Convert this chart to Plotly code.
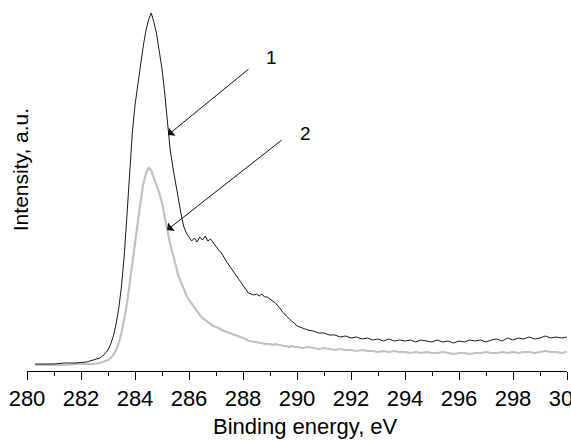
import plotly.graph_objects as go

# Binding energy grid (eV)
energy = [280.3, 280.6, 281.0, 281.4, 281.8, 282.2, 282.5,
          282.7, 282.8, 282.9, 283.0, 283.1, 283.2, 283.3, 283.4, 283.5, 283.6, 283.7, 283.8, 283.9,
          284.0, 284.1, 284.2, 284.3, 284.4, 284.5, 284.6, 284.7, 284.8, 284.9,
          285.0, 285.1, 285.2, 285.3, 285.4, 285.5, 285.6, 285.7, 285.8, 285.9,
          286.0, 286.1, 286.2, 286.3, 286.4, 286.5, 286.6, 286.7, 286.8, 286.9,
          287.0, 287.1, 287.2, 287.3, 287.4, 287.5, 287.6, 287.7, 287.8, 287.9,
          288.0, 288.1, 288.2, 288.3, 288.4, 288.5, 288.6, 288.7, 288.8, 288.9,
          289.0, 289.1, 289.2, 289.3, 289.4, 289.5, 289.6, 289.7, 289.8, 289.9,
          290.0, 290.2, 290.4, 290.6, 290.8, 291.0, 291.2, 291.4, 291.6, 291.8,
          292.0, 292.2, 292.4, 292.6, 292.8, 293.0, 293.2, 293.4, 293.6, 293.8,
          294.0, 294.2, 294.4, 294.6, 294.8, 295.0, 295.2, 295.4, 295.6, 295.8,
          296.0, 296.2, 296.4, 296.6, 296.8, 297.0, 297.2, 297.4, 297.6, 297.8,
          298.0, 298.2, 298.4, 298.6, 298.8, 299.0, 299.2, 299.4, 299.6, 299.8,
          300.0]

# Spectrum 1 (black), a.u.
intensity_1 = [7, 7, 7, 8, 8, 9, 11,
               13, 15, 18, 21, 27, 35, 47, 63, 85, 115, 155, 198, 238,
               266, 287, 306, 324, 340, 351, 358, 349, 337, 321,
               302, 278, 247, 222, 204, 188, 172, 158, 145, 138,
               134, 130, 133, 129, 134, 131, 135, 130, 132, 128,
               125, 121, 118, 113, 109, 105, 101, 97, 93, 89,
               86, 82, 78, 77, 76, 77, 75, 77, 74, 74,
               72, 70, 68, 65, 61, 58, 55, 52, 50, 48,
               45, 43, 41, 40, 38, 38, 36, 36, 34, 35,
               33, 34, 32, 33, 31, 32, 30, 32, 30, 31,
               30, 31, 29, 31, 30, 29, 31, 29, 30, 28,
               30, 29, 31, 30, 31, 29, 31, 32, 30, 33,
               31, 33, 32, 34, 32, 33, 35, 33, 34, 33,
               34]

# Spectrum 2 (grey), a.u.
intensity_2 = [6, 6, 6, 6, 7, 7, 7,
               8, 9, 10, 11, 13, 16, 21, 28, 38, 51, 67, 87, 108,
               128, 145, 168, 186, 197, 203, 201, 193, 186, 178,
               168, 153, 140, 127, 117, 105, 96, 89, 82, 76,
               71, 67, 63, 60, 56, 53, 51, 49, 47, 45,
               44, 43, 41, 40, 39, 38, 37, 36, 35, 34,
               33, 32, 30, 30, 29, 29, 28, 28, 27, 27,
               27, 26, 27, 26, 26, 25, 25, 24, 25, 24,
               24, 23, 24, 23, 22, 23, 22, 21, 22, 21,
               21, 20, 21, 20, 20, 19, 20, 19, 20, 19,
               19, 18, 19, 18, 19, 18, 18, 19, 18, 17,
               18, 18, 17, 18, 18, 19, 18, 18, 19, 18,
               19, 18, 19, 19, 18, 19, 20, 19, 19, 18,
               19]

x_ticks = [280, 282, 284, 286, 288, 290, 292, 294, 296, 298, 300]
x_title = "Binding energy, eV"
y_title = "Intensity, a.u."
labels = ["1", "2"]

FONT = "Liberation Sans, Arial, sans-serif"

fig = go.Figure()
fig.add_trace(go.Scatter(x=energy, y=intensity_2, mode="lines",
                         line=dict(color="#c2c2c2", width=2.2), showlegend=False))
fig.add_trace(go.Scatter(x=energy, y=intensity_1, mode="lines",
                         line=dict(color="#1a1a1a", width=1), showlegend=False))

# arrows
fig.add_annotation(x=285.22, y=236, ax=82, ay=-67, xref="x", yref="y",
                   text="", showarrow=True, arrowhead=1, arrowsize=1.8,
                   arrowwidth=1, arrowcolor="#111")
fig.add_annotation(x=285.19, y=141, ax=116, ay=-91, xref="x", yref="y",
                   text="", showarrow=True, arrowhead=1, arrowsize=1.8,
                   arrowwidth=1, arrowcolor="#111")
fig.add_annotation(x=289.04, y=314, text=labels[0], showarrow=False,
                   font=dict(family=FONT, size=19, color="black"))
fig.add_annotation(x=290.3, y=238, text=labels[1], showarrow=False,
                   font=dict(family=FONT, size=19, color="black"))

# axis titles
fig.add_annotation(x=0.515, y=-0.153, xref="paper", yref="paper",
                   text=x_title, showarrow=False, yanchor="middle",
                   font=dict(family=FONT, size=22, color="black"))
fig.add_annotation(x=-0.012, y=0.55, xref="paper", yref="paper",
                   text=y_title, showarrow=False, textangle=-90,
                   xanchor="center", yanchor="middle",
                   font=dict(family=FONT, size=21, color="black"))

fig.update_xaxes(range=[280, 300], tickvals=x_ticks, ticktext=[str(v) for v in x_ticks],
                 ticks="outside", ticklen=8, tickwidth=1, tickcolor="black",
                 showline=True, linecolor="black", linewidth=1,
                 showgrid=False, zeroline=False, automargin=False,
                 minor=dict(dtick=1, ticks="outside", ticklen=4, tickcolor="black", tickwidth=1,
                            showgrid=False),
                 tickfont=dict(family=FONT, size=22, color="black"),
                 ticklabeloverflow="allow")
fig.update_yaxes(range=[0, 366], showticklabels=False, showgrid=False, zeroline=False,
                 showline=False, ticks="", automargin=False)

fig.update_layout(width=571, height=441,
                  margin=dict(l=27, r=4, t=5, b=70),
                  plot_bgcolor="white", paper_bgcolor="white",
                  font=dict(family=FONT))

fig.write_html("out.html", config={"displayModeBar": False},
               post_script="document.body.style.margin='0';document.body.style.overflow='hidden';")
